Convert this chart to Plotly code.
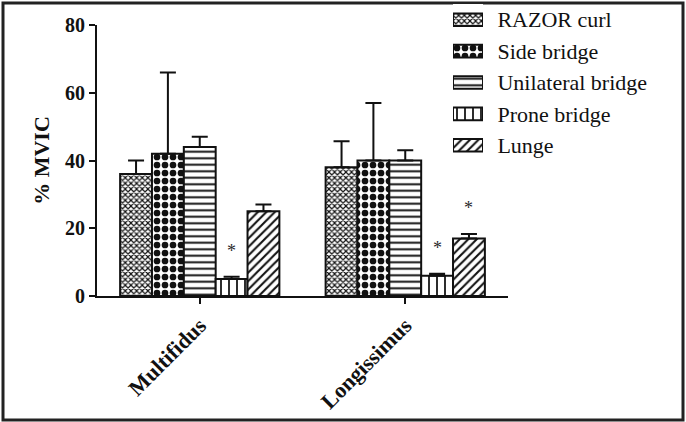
import plotly.graph_objects as go

# ---- data ----
categories = ["Multifidus", "Longissimus"]
series = ["RAZOR curl", "Side bridge", "Unilateral bridge", "Prone bridge", "Lunge"]
values = {
    "RAZOR curl": [36, 38],
    "Side bridge": [42, 40],
    "Unilateral bridge": [44, 40],
    "Prone bridge": [5, 6],
    "Lunge": [25, 17],
}
errors = {
    "RAZOR curl": [4, 7.7],
    "Side bridge": [24, 17],
    "Unilateral bridge": [3, 3],
    "Prone bridge": [0.7, 0.6],
    "Lunge": [2, 1.3],
}
y_ticks = [0, 20, 40, 60, 80]
# significance markers: (category index, series name, y position)
star_category = [0, 1, 1]
star_series = ["Prone bridge", "Prone bridge", "Lunge"]
star_y = [14.2, 15.2, 27]

# ---- styles ----
patterns = {
    "RAZOR curl": dict(shape="x", size=4, solidity=0.5),
    "Side bridge": dict(shape=".", size=8, solidity=0.55),
    "Unilateral bridge": dict(shape="-", size=6.5, solidity=0.3),
    "Prone bridge": dict(shape="|", size=8, solidity=0.22),
    "Lunge": dict(shape="/", size=6, solidity=0.35),
}
INK = "#111111"
SERIF = "Liberation Serif"
BARGAP = 0.225

W, H = 686, 422
# main plot box (pixels)
PX0, PX1, PY0, PY1 = 97, 508, 25, 296
# legend box (pixels): swatch column and rows
LX0, LX1, LY0, LY1 = 453, 483, 4, 161


def fx(px):
    return px / W


def fy(py):
    return (H - py) / H


fig = go.Figure()
for s in series:
    pat = patterns[s]
    fig.add_trace(go.Bar(
        name=s, x=categories, y=values[s],
        marker=dict(color="white",
                    line=dict(color=INK, width=2),
                    pattern=dict(shape=pat["shape"], size=pat["size"],
                                 solidity=pat["solidity"], fgcolor=INK,
                                 bgcolor="white", fillmode="replace")),
        error_y=dict(type="data", symmetric=False, array=errors[s],
                     arrayminus=[0] * len(categories),
                     color=INK, thickness=2, width=8),
        showlegend=False, xaxis="x", yaxis="y",
    ))

# legend: patterned swatches drawn as a small horizontal bar chart
fig.add_trace(go.Bar(
    orientation="h", y=series, x=[1] * len(series), width=0.4,
    xaxis="x2", yaxis="y2", showlegend=False, hoverinfo="skip",
    marker=dict(color="white", line=dict(color=INK, width=2),
                pattern=dict(shape=[patterns[s]["shape"] for s in series],
                             size=[patterns[s]["size"] for s in series],
                             solidity=[patterns[s]["solidity"] for s in series],
                             fgcolor=INK, bgcolor="white", fillmode="replace")),
))

# asterisks
n = len(series)
group_w = 1 - BARGAP
bar_w = group_w / n
for ci, s, yv in zip(star_category, star_series, star_y):
    idx = series.index(s)
    xoff = -group_w / 2 + bar_w * (idx + 0.5)
    fig.add_annotation(x=ci + xoff, y=yv, xref="x", yref="y", text="*",
                       showarrow=False, yshift=-3,
                       font=dict(family=SERIF, size=18, color="#2a2a2a"))

# outer frame
fig.add_shape(type="rect", xref="paper", yref="paper",
              x0=fx(3), x1=fx(683), y0=fy(420), y1=fy(3),
              line=dict(color="#222222", width=3), fillcolor="rgba(0,0,0,0)",
              layer="below")

fig.update_layout(
    width=W, height=H, autosize=False,
    margin=dict(l=0, r=0, t=0, b=0, pad=0),
    paper_bgcolor="white", plot_bgcolor="white",
    barmode="group", bargap=BARGAP, bargroupgap=0,
    font=dict(family=SERIF, color=INK),
    showlegend=False,
    xaxis=dict(domain=[fx(PX0), fx(PX1)], anchor="y", range=[-0.5, 1.5],
               showline=True, linewidth=2, linecolor=INK,
               ticks="outside", ticklen=6, tickwidth=2, tickcolor=INK,
               tickangle=-45, automargin=False, showgrid=False,
               tickfont=dict(family=SERIF, size=22, color=INK, weight="bold")),
    yaxis=dict(domain=[fy(PY1), fy(PY0)], anchor="x", range=[0, 80],
               tickvals=y_ticks, showline=True, linewidth=2,
               linecolor=INK, ticks="outside", ticklen=6, tickwidth=2,
               tickcolor=INK, automargin=False, showgrid=False, zeroline=False,
               tickfont=dict(family=SERIF, size=20, color=INK, weight="bold"),
               title=dict(text="% MVIC", standoff=9,
                          font=dict(family=SERIF, size=22, color=INK, weight="bold"))),
    xaxis2=dict(domain=[fx(LX0), fx(LX1)], anchor="y2", range=[0, 1],
                visible=False, fixedrange=True),
    yaxis2=dict(domain=[fy(LY1), fy(LY0)], anchor="x2", side="right",
                range=[len(series) - 0.5, -0.5], type="category",
                showline=False, showgrid=False, zeroline=False,
                ticks="outside", ticklen=9, tickcolor="rgba(0,0,0,0)",
                automargin=False, fixedrange=True,
                tickfont=dict(family=SERIF, size=22, color=INK)),
)

fig.write_html("out.html", config={"displayModeBar": False, "staticPlot": True},
               post_script="document.body.style.margin='0px';")
